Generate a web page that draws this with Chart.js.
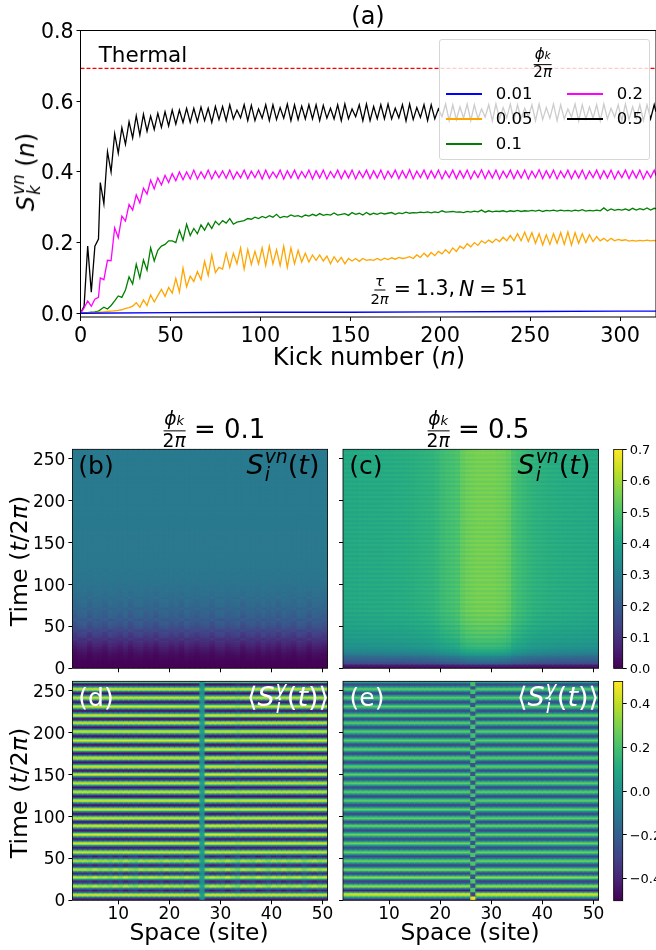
<!DOCTYPE html>
<html>
<head>
<meta charset="utf-8">
<script src="https://cdn.jsdelivr.net/npm/chart.js@4"></script>
<style>
html, body { margin: 0; padding: 0; background: #fff; }
#page { position: relative; width: 656px; height: 950px; overflow: hidden; font-family: "DejaVu Sans"; color: #000; }
canvas { position: absolute; }
.lbl { position: absolute; white-space: nowrap; transform: translate(-50%, -50%); line-height: 1; }
.rot { transform: translate(-50%, -50%) rotate(-90deg); }
.w { color: #fff; }
.fr { display: inline-flex; flex-direction: column; align-items: center; vertical-align: middle; font-size: .72em; line-height: 1.05; }
.fr > span:first-child { border-bottom: 1.5px solid currentColor; padding: 0 1px 1px; }
.fr small { font-size: .7em; }
.ss { display: inline-flex; flex-direction: column; vertical-align: middle; font-size: .7em; line-height: .95; font-style: italic; margin-left: 1px; }
.eq { margin: 0 5px; }
#legend { position: absolute; left: 438.7px; top: 38.7px; width: 209px; height: 119.5px; background: rgba(255,255,255,.8); border: 1px solid #d6d6d6; border-radius: 3px; }
.key { position: absolute; height: 2px; width: 36px; }
.keytxt { position: absolute; font-size: 16.5px; line-height: 1; transform: translateY(-50%); }
</style>
</head>
<body>
<div id="page">
  <canvas id="panelA"></canvas>
  <canvas id="panelB"></canvas>
  <canvas id="panelC"></canvas>
  <canvas id="panelD"></canvas>
  <canvas id="panelE"></canvas>
  <canvas id="barTop"></canvas>
  <canvas id="barBottom"></canvas>

  <div class="lbl" style="left:368px;top:16px;font-size:24px">(a)</div>
  <div class="lbl" style="left:143px;top:55px;font-size:21.5px">Thermal</div>
  <div class="lbl rot" style="left:27px;top:172px;font-size:24px"><i>S</i><span class="ss"><span>vn</span><span>k</span></span> (<i>n</i>)</div>
  <div class="lbl" style="left:369px;top:357px;font-size:24px">Kick number (<i>n</i>)</div>
  <div class="lbl" style="left:449px;top:289px;font-size:20.5px"><span class="fr"><span><i>τ</i></span><span>2<i>π</i></span></span><span class="eq">=</span>1.3,<i style="margin-left:4px">N</i><span class="eq">=</span>51</div>

  <div id="legend"></div>

  <div class="lbl" style="left:214px;top:430px;font-size:26px"><span class="fr"><span><i>ϕ</i><small><i>k</i></small></span><span>2<i>π</i></span></span> = 0.1</div>
  <div class="lbl" style="left:478px;top:430px;font-size:26px"><span class="fr"><span><i>ϕ</i><small><i>k</i></small></span><span>2<i>π</i></span></span> = 0.5</div>

  <div class="lbl rot" style="left:20px;top:561px;font-size:23.7px">Time (<i>t</i>/2<i>π</i>)</div>
  <div class="lbl rot" style="left:20px;top:793px;font-size:23.7px">Time (<i>t</i>/2<i>π</i>)</div>
  <div class="lbl" style="left:199px;top:933px;font-size:23.4px">Space (site)</div>
  <div class="lbl" style="left:470px;top:933px;font-size:23.4px">Space (site)</div>

  <div class="lbl" style="left:96px;top:465px;font-size:25px">(b)</div>
  <div class="lbl" style="left:283px;top:466px;font-size:27px"><i>S</i><span class="ss"><span>vn</span><span>i</span></span>(<i>t</i>)</div>
  <div class="lbl" style="left:366px;top:465px;font-size:25px">(c)</div>
  <div class="lbl" style="left:554px;top:466px;font-size:27px"><i>S</i><span class="ss"><span>vn</span><span>i</span></span>(<i>t</i>)</div>
  <div class="lbl w" style="left:96px;top:697px;font-size:25px">(d)</div>
  <div class="lbl w" style="left:288px;top:698px;font-size:27px">⟨<i>S</i><span class="ss"><span>y</span><span>i</span></span>(<i>t</i>)⟩</div>
  <div class="lbl w" style="left:367px;top:697px;font-size:25px">(e)</div>
  <div class="lbl w" style="left:558px;top:698px;font-size:27px">⟨<i>S</i><span class="ss"><span>y</span><span>i</span></span>(<i>t</i>)⟩</div>
</div>

<script>
// tick positions
const kickTicks = [0, 50, 100, 150, 200, 250, 300];
const entropyTicks = [0, 0.2, 0.4, 0.6, 0.8];
const siteTicks = [10, 20, 30, 40, 50];
const timeTicks = [0, 50, 100, 150, 200, 250];
const barTopTicks = [0, 0.1, 0.2, 0.3, 0.4, 0.5, 0.6, 0.7];
const barBottomTicks = [-0.4, -0.2, 0, 0.2, 0.4];

// panel (a)
const kicks = [0,2,4,6,8,10,
  11,13,15,17,19,21,23,25,27,29,31,33,35,37,39,41,43,45,47,49,
  51,53,55,57,59,61,63,65,67,69,71,73,75,77,79,81,83,85,87,89,
  91,93,95,97,99,101,103,105,107,109,111,113,115,117,119,121,123,125,127,129,
  131,133,135,137,139,141,143,145,147,149,151,153,155,157,159,161,163,165,167,169,
  171,173,175,177,179,181,183,185,187,189,191,193,195,197,199,201,203,205,207,209,
  211,213,215,217,219,221,223,225,227,229,231,233,235,237,239,241,243,245,247,249,
  251,253,255,257,259,261,263,265,267,269,271,273,275,277,279,281,283,285,287,289,
  291,293,295,297,299,301,303,305,307,309,311,313,315,317,319,320];
const black05 = [0,.02,.19,.06,.19,.21,
  .37,.31,.457,.40,.508,.453,.525,.478,.542,.496,.559,.504,.563,.515,.558,.52,.566,.526,.57,.53,
  .575,.535,.575,.54,.58,.54,.58,.542,.583,.545,.58,.54,.585,.548,.585,.545,.59,.55,.575,.553,
  .59,.545,.588,.545,.578,.552,.59,.545,.59,.548,.582,.552,.592,.545,.59,.548,.586,.55,.59,.55,
  .59,.545,.588,.552,.58,.55,.59,.545,.592,.55,.578,.556,.59,.545,.592,.545,.585,.55,.59,.55,
  .592,.55,.58,.553,.59,.544,.592,.548,.582,.554,.59,.545,.59,.55,.578,.556,.592,.545,.59,.548,
  .584,.552,.592,.545,.59,.55,.578,.555,.59,.544,.592,.55,.582,.553,.592,.545,.59,.55,.58,.555,
  .59,.545,.592,.548,.582,.552,.592,.545,.59,.55,.578,.555,.592,.544,.59,.55,.584,.552,.59,.545,
  .592,.55,.58,.555,.59,.545,.592,.548,.584,.552,.59,.545,.59,.55,.59,.57];
const magenta02 = [0,.015,.035,.02,.04,.045,
  .10,.095,.15,.149,.242,.214,.275,.261,.308,.292,.335,.312,.354,.337,.377,.352,.383,.363,.39,.37,
  .395,.375,.40,.378,.40,.38,.405,.38,.40,.382,.405,.38,.402,.384,.403,.382,.405,.38,.40,.383,
  .405,.381,.402,.384,.404,.38,.405,.382,.40,.384,.405,.38,.403,.383,.405,.381,.401,.384,.405,.38,
  .403,.383,.405,.38,.401,.384,.405,.381,.403,.383,.405,.38,.402,.384,.405,.381,.403,.383,.405,.38,
  .402,.384,.405,.381,.403,.383,.406,.38,.402,.384,.405,.381,.403,.383,.405,.38,.402,.384,.405,.381,
  .403,.383,.405,.38,.402,.384,.406,.381,.403,.383,.405,.38,.402,.384,.405,.381,.403,.383,.405,.38,
  .402,.384,.406,.381,.403,.383,.405,.38,.402,.384,.405,.381,.403,.383,.405,.38,.402,.384,.405,.381,
  .403,.383,.405,.38,.402,.384,.405,.381,.403,.383,.405,.38,.402,.384,.405,.39];
const green01 = [0,.001,.002,.003,.004,.006,
  .01,.017,.012,.022,.035,.049,.045,.066,.103,.083,.139,.10,.151,.122,.185,.148,.178,.19,.195,.205,
  .205,.20,.235,.207,.252,.22,.24,.225,.25,.235,.255,.24,.26,.25,.262,.255,.268,.252,.258,.26,
  .262,.268,.266,.272,.268,.274,.27,.276,.272,.28,.27,.274,.272,.278,.274,.276,.272,.278,.275,.28,
  .276,.282,.277,.28,.278,.284,.278,.28,.282,.277,.285,.28,.283,.278,.285,.279,.283,.28,.284,.281,
  .283,.285,.28,.284,.282,.286,.283,.285,.284,.286,.285,.287,.284,.287,.285,.29,.286,.287,.288,.286,
  .287,.285,.288,.286,.289,.287,.292,.286,.29,.287,.289,.288,.29,.287,.29,.288,.291,.288,.29,.289,
  .291,.289,.292,.288,.291,.29,.292,.289,.292,.29,.291,.289,.292,.29,.293,.289,.291,.29,.292,.29,
  .298,.29,.295,.291,.294,.292,.295,.291,.297,.292,.296,.293,.298,.292,.297,.296];
const orange005 = [0,0,.001,.001,.002,.003,
  .003,.004,.005,.006,.007,.008,.01,.014,.016,.02,.03,.017,.038,.022,.052,.032,.05,.068,.048,.073,
  .057,.099,.06,.128,.075,.105,.09,.118,.095,.147,.107,.165,.115,.13,.125,.17,.13,.17,.14,.185,
  .125,.18,.138,.175,.14,.185,.135,.19,.14,.18,.135,.19,.13,.185,.14,.178,.145,.17,.145,.165,
  .15,.165,.148,.162,.14,.16,.145,.158,.14,.155,.148,.155,.147,.155,.15,.152,.15,.155,.15,.156,
  .152,.157,.153,.158,.155,.157,.16,.155,.165,.158,.17,.16,.172,.163,.175,.168,.18,.17,.185,.175,
  .19,.183,.197,.188,.2,.192,.205,.198,.207,.2,.21,.203,.215,.205,.22,.205,.225,.205,.229,.203,
  .228,.198,.225,.193,.222,.195,.225,.198,.228,.195,.23,.193,.228,.198,.225,.2,.222,.203,.217,.205,
  .212,.204,.212,.205,.209,.206,.208,.204,.206,.204,.206,.205,.207,.205,.206,.205];
const blueKicks = [0, 50, 100, 150, 200, 250, 300, 320];
const blue001 = [0, .002, .003, .003, .004, .005, .006, .006];
const thermalKicks = [0, 320];
const thermalLine = [.693, .693];

// legend
const legendNames = ['0.01', '0.05', '0.1', '0.2', '0.5'];
const legendColors = ['blue', 'orange', 'green', 'magenta', 'black'];

// panel (b), one value per 2.6 time units
const bRows = [0,.003,.005,.008,.012,.016,.022,.03,.04,.05,.062,.075,.09,.102,.114,.126,.138,.15,.162,.175,
  .184,.192,.2,.206,.212,.218,.223,.228,.232,.237,.241,.245,.249,.252,.255,.258,.261,.264,.267,.27,
  .272,.273,.274,.275,.276,.277,.278,.279,.28,.28,.281,.281,.281,.282,.282,.282,.282,.283,.283,.283,
  .283,.283,.283,.284,.284,.284,.284,.284,.284,.284,.285,.285,.285,.285,.285,.285,.285,.285,.285,.285,
  .285,.285,.285,.285,.285,.285,.285,.285,.285,.285,.285,.285,.285,.285,.285,.285,.285,.285,.285,.285];
const bRowSwing = [0,0,.001,.002,.004,.006,.008,.01,.012,.013,.015,.014,.016,-.012,.017,.016,.017,-.013,.017,.018,
  .018,.017,-.014,.018,.017,.016,.015,-.012,.014,.013,.012,.01,-.009,.008,.007,.006,.005,.005,-.004,.004,
  .004,.003,.003,-.003,.002,.002,.002,.001,-.001,.001,.001,.001,0,0,0,0,0,0,0,0];
const bSites = [-.6,.4,.8,-.9,.6,.2,-.7,.9,.3,-.5,.7,-.8,.5,.9,-.4,.2,-.9,.6,.8,-.3,
  .4,-.7,.9,.1,-.6,.3,.5,-.8,.7,.9,-.4,.2,.8,-.9,.3,.6,-.5,.9,-.2,.4,-.8,.7,.1,-.6,.9,.5,-.9,.6,.2,-.4];

// panel (c)
const cSites = [.43,.43,.43,.432,.432,.435,.435,.435,.438,.438,.44,.44,.442,.445,.448,.452,.456,.46,.47,.485,
  .495,.5,.51,.54,.555,.56,.565,.565,.565,.565,.56,.555,.54,.505,.49,.478,.466,.458,.452,.448,
  .445,.442,.44,.438,.438,.435,.435,.432,.43,.43];
const cRows = [.04,.12,.38,.45,.5,.56,.66,.72,.76,.8,.84,.82,.88,.85,.91,.87,.93,.89,.95,.9,
  .97,.92,.98,.93,.99,.94,1,.95,1,.95,1,.955,1,.955,1,.955,1,.955,1,.955,
  1,.955,1,.955,1,.955,1,.955,1,.955,1,.955,1,.955,1,.955,1,.955,1,.955,
  1,.955,1,.955,1,.955,1,.955,1,.955,1,.955,1,.955,1,.955,1,.955,1,.955,
  1,.955,1,.955,1,.955,1,.955,1,.955,1,.955,1,.955,1,.955,1,.97,1,.97];

// panel (d), one value per 1.3 time units
const dRows = [-.33,-.46,-.33,0,.33,.46,
  .33,0,-.33,-.46,-.33,0,.33,.47, .33,0,-.33,-.46,-.33,0,.33,.46, .33,-.1,-.42,-.42,-.1,.33,.47,
  .33,0,-.33,-.46,-.33,0,.33,.46, .33,0,-.33,-.46,-.33,0,.33,.46, .33,0,-.33,-.46,-.33,0,.33,.45,
  .33,0,-.33,-.46,-.33,0,.33,.46, .33,0,-.33,-.46,-.33,0,.33,.46, .33,-.1,-.42,-.42,-.1,.33,.46,
  .33,0,-.33,-.46,-.33,0,.33,.45, .33,0,-.33,-.46,-.33,0,.33,.46, .33,0,-.33,-.46,-.33,0,.33,.46,
  .33,0,-.33,-.46,-.33,0,.33,.45, .33,0,-.33,-.46,-.33,0,.33,.46, .33,-.1,-.42,-.42,-.1,.33,.46,
  .33,0,-.33,-.46,-.33,0,.33,.45, .33,0,-.33,-.46,-.33,0,.33,.45, .33,0,-.33,-.46,-.33,0,.33,.46,
  .33,0,-.33,-.46,-.33,0,.33,.45, .33,0,-.33,-.46,-.33,0,.33,.46, .33,-.1,-.42,-.42,-.1,.33,.45,
  .33,0,-.33,-.46,-.33,0,.33,.45, .33,0,-.33,-.46,-.33,0,.33,.46, .33,0,-.33,-.46,-.33,0,.33,.45,
  .33,0,-.33,-.46,-.33,.2];
const dSites = [.96,.96,.97,.95,.98,.97,.96,.98,.97,.96,.98,.97,.95,.98,.97,.96,.98,.97,.96,.98,
  .97,.96,.98,.97,.95,.1,.95,.98,.97,.96,.98,.97,.9,.98,.97,.96,.98,.97,.96,.98,
  .97,.96,.98,.97,.96,.92,.98,.97,.96,.96];
const dEarlySites = [.95,.9,.92,.85,.97,.85,.92,.8,.95,.82,.97,.85,.8,.95,.87,.97,.9,.85,1,.87,
  .92,.85,.97,.9,.85,1,.87,.97,.9,.85,1,.87,.8,.97,.9,.85,1,.92,.82,.95,
  .87,1,.85,.92,.97,.82,.9,1,.87,.95];

// panel (e)
const eRows = [-.47,-.35,-.1,.1,.3,.42,.44,.2,-.2,-.42,-.3,0,.25,.36,
  .22,0,-.22,-.32,-.24,0,.24,.34, .2,-.05,-.28,-.3,-.05,.22,.34,
  .18,0,-.2,-.3,-.2,0,.2,.31, .18,0,-.2,-.3,-.2,0,.2,.3, .18,0,-.2,-.3,-.2,0,.18,.29,
  .18,0,-.2,-.29,-.2,0,.18,.29, .17,0,-.2,-.29,-.2,0,.18,.29, .16,-.05,-.26,-.27,-.05,.18,.29,
  .17,0,-.2,-.29,-.2,0,.18,.28, .17,0,-.2,-.29,-.2,0,.18,.28, .17,0,-.2,-.29,-.2,0,.18,.28,
  .17,0,-.2,-.28,-.2,0,.18,.28, .17,0,-.2,-.28,-.2,0,.18,.28, .16,-.05,-.25,-.26,-.05,.17,.27,
  .17,0,-.2,-.28,-.2,0,.18,.28, .17,0,-.2,-.28,-.2,0,.18,.28, .17,0,-.2,-.28,-.2,0,.17,.27,
  .17,0,-.2,-.28,-.2,0,.17,.27, .17,0,-.2,-.28,-.2,0,.17,.27, .16,-.05,-.25,-.26,-.05,.17,.27,
  .17,0,-.2,-.28,-.2,0,.17,.27, .17,0,-.2,-.28,-.2,0,.17,.27, .17,0,-.2,-.28,-.2,0,.17,.27,
  .17,0,-.2,-.28,-.2,.05];
const eSites = [.96,.97,.98,.97,.98,.98,.99,.98,1,.99,1,.99,1,1,1,1,1,1,.99,1,
  1,1,.99,1,1,0,1,1,.99,1,1,1,1,.99,1,1,1,1,1,1,
  1,.99,1,1,.99,.98,.98,.97,.97,.96];
// site 26 flips sign on its own, one block is about 4 rows tall
const eMiddle = [.47,-.3,.22,-.26,.22,-.25,.22,-.25,.22,-.24,.21,-.24,.21,-.24,.21,-.24,.21,-.24,.21,-.24,
  .21,-.24,.21,-.24,.2,-.24,.2,-.24,.2,-.24,.2,-.24,.2,-.24,.2,-.24,.2,-.24,.2,-.24,
  .2,-.24,.2,-.24,.2,-.24,.2,-.24,.2,-.24,.2,-.24];

// viridis, every 0.1
const viridisStops = [[68,1,84],[72,36,117],[65,68,135],[53,95,141],[42,120,142],[33,145,140],
  [34,168,132],[68,191,112],[122,209,81],[189,223,38],[253,231,37]];

function viridis(v) {
  var p = Math.min(Math.max(v, 0), 1) * 10;
  var i = Math.min(Math.floor(p), 9);
  var f = p - i;
  var a = viridisStops[i], b = viridisStops[i + 1];
  return 'rgb(' + Math.round(a[0] + (b[0] - a[0]) * f) + ',' + Math.round(a[1] + (b[1] - a[1]) * f) + ',' + Math.round(a[2] + (b[2] - a[2]) * f) + ')';
}

Chart.defaults.font.family = '"DejaVu Sans"';
Chart.defaults.color = '#000';
Chart.defaults.animation = false;

const framePlugin = {
  id: 'frame',
  afterDraw: function (chart) {
    var a = chart.chartArea, ctx = chart.ctx;
    ctx.save();
    ctx.strokeStyle = '#000';
    ctx.lineWidth = chart.options.frameWidth || 1;
    ctx.strokeRect(a.left, a.top, a.width, a.height);
    ctx.restore();
  }
};

function axis(ticksList, min, max, fontSize, fixedSize, horizontal, fmt, extra) {
  return Object.assign({
    type: 'linear', min: min, max: max, offset: false,
    grid: { offset: false, drawOnChartArea: false, drawTicks: true, tickLength: 4, tickColor: '#000', tickWidth: 1 },
    border: { display: false },
    ticks: {
      font: { size: fontSize }, color: '#000', autoSkip: false, maxRotation: 0, callback: fmt,
      padding: horizontal && fontSize < 20 ? 0 : 3,
      labelOffset: horizontal ? 0 : fontSize * .1
    },
    afterBuildTicks: function (s) { s.ticks = ticksList.map(function (v) { return { value: v }; }); },
    afterFit: function (s) { if (horizontal) { s.height = fixedSize; } else { s.width = fixedSize; } }
  }, extra || {});
}

// puts a canvas on the page so that the plot area lands on the given box
function place(id, box, leftRoom, topRoom, rightRoom, bottomRoom) {
  var c = document.getElementById(id);
  var x0 = Math.floor(box.left - leftRoom), y0 = Math.floor(box.top - topRoom);
  var w = Math.ceil(box.right + rightRoom) - x0, h = Math.ceil(box.bottom + bottomRoom) - y0;
  c.width = w; c.height = h;
  c.style.left = x0 + 'px'; c.style.top = y0 + 'px';
  c.style.width = w + 'px'; c.style.height = h + 'px';
  return {
    canvas: c,
    left: box.left - x0,
    top: box.top - y0,
    right: w - (box.right - x0),
    bottom: h - (box.bottom - y0)
  };
}

function heatmap(id, box, cells, colors, xTicksShown, yTicksShown) {
  var p = place(id, box, 72, 14, 8, 30);
  return new Chart(p.canvas, {
    type: 'bar',
    data: { datasets: [{ data: cells, backgroundColor: colors, borderWidth: 0, inflateAmount: .6, grouped: false, barPercentage: 1, categoryPercentage: 1 }] },
    options: {
      responsive: false, events: [], frameWidth: .8,
      layout: { padding: { top: p.top, right: p.right } },
      plugins: { legend: { display: false }, tooltip: { enabled: false } },
      scales: {
        x: axis(siteTicks, 1, 51, 17, p.bottom, true, function (v) { return xTicksShown ? String(v) : ''; }),
        y: axis(timeTicks, 0, 261, 17, p.left, false, function (v) { return yTicksShown ? String(v) : ''; })
      }
    },
    plugins: [framePlugin]
  });
}

function colorBar(id, box, lo, hi, tickList) {
  var p = place(id, box, 6, 12, 656 - box.right, 12);
  var cells = [], colors = [];
  var steps = 128;
  for (var i = 0; i < steps; i++) {
    var a = lo + (hi - lo) * i / steps, b = lo + (hi - lo) * (i + 1) / steps;
    cells.push({ x: .5, y: [a, b] });
    colors.push(viridis((i + .5) / steps));
  }
  return new Chart(p.canvas, {
    type: 'bar',
    data: { datasets: [{ data: cells, backgroundColor: colors, borderWidth: 0, inflateAmount: .6, grouped: false, barPercentage: 1, categoryPercentage: 1 }] },
    options: {
      responsive: false, events: [], frameWidth: .8,
      layout: { padding: { top: p.top, bottom: p.bottom, left: p.left } },
      plugins: { legend: { display: false }, tooltip: { enabled: false } },
      scales: {
        x: { type: 'linear', min: 0, max: 1, display: false, offset: false, grid: { offset: false } },
        y: axis(tickList, lo, hi, 13, p.right, false, function (v) { return v.toFixed(1).replace('-', '\u2212'); }, { position: 'right' })
      }
    },
    plugins: [framePlugin]
  });
}

function series(xs, ys, color, width, dash) {
  return {
    data: ys.map(function (v, i) { return { x: xs[i], y: v }; }),
    borderColor: color, borderWidth: width || 1.3, pointRadius: 0, tension: 0, fill: false, borderDash: dash || []
  };
}

// panel (a)
var boxA = { left: 80.5, top: 30.5, right: 656, bottom: 317 };
var pA = place('panelA', boxA, 80, 30, 0, 60);
new Chart(pA.canvas, {
  type: 'line',
  data: {
    datasets: [
      series(thermalKicks, thermalLine, 'red', 1.2, [4, 2]),
      series(blueKicks, blue001, legendColors[0], 1.4),
      series(kicks, orange005, legendColors[1]),
      series(kicks, green01, legendColors[2]),
      series(kicks, magenta02, legendColors[3]),
      series(kicks, black05, legendColors[4])
    ]
  },
  options: {
    responsive: false, events: [],
    layout: { padding: { top: pA.top, right: 0 } },
    plugins: { legend: { display: false }, tooltip: { enabled: false } },
    scales: {
      x: axis(kickTicks, 0, 320, 20.8, pA.bottom, true, function (v) { return String(v); }),
      y: axis(entropyTicks, -0.0105, .8, 20.5, pA.left, false, function (v) { return v.toFixed(1); })
    }
  },
  plugins: [framePlugin]
});

// html legend
var legendBox = document.getElementById('legend');
var title = document.createElement('div');
title.className = 'lbl';
title.style.cssText = 'left:103px;top:24px;font-size:21px';
title.innerHTML = '<span class="fr"><span><i>ϕ</i><small><i>k</i></small></span><span>2<i>π</i></span></span>';
legendBox.appendChild(title);
legendNames.forEach(function (name, i) {
  var col = i < 3 ? 0 : 1, row = i < 3 ? i : i - 3;
  var key = document.createElement('div');
  key.className = 'key';
  key.style.left = (6 + col * 121.5) + 'px';
  key.style.top = (53 + row * 25) + 'px';
  key.style.background = legendColors[i];
  var txt = document.createElement('div');
  txt.className = 'keytxt';
  txt.textContent = name;
  txt.style.left = (56 + col * 121) + 'px';
  txt.style.top = (54 + row * 25) + 'px';
  legendBox.appendChild(key);
  legendBox.appendChild(txt);
});

// heatmap cells
function cellsB() {
  var cells = [], colors = [];
  bRows.forEach(function (m, r) {
    bSites.forEach(function (s, i) {
      var swing = r < bRowSwing.length ? bRowSwing[r] : 0;
      var v = m + swing * s;
      cells.push({ x: i + 1.5, y: [r * 2.61, (r + 1) * 2.61] });
      colors.push(viridis(v / .7));
    });
  });
  return { cells: cells, colors: colors };
}
function cellsC() {
  var cells = [], colors = [];
  cRows.forEach(function (m, r) {
    cSites.forEach(function (s, i) {
      cells.push({ x: i + 1.5, y: [r * 2.61, (r + 1) * 2.61] });
      colors.push(viridis(s * m / .7));
    });
  });
  return { cells: cells, colors: colors };
}
function cellsD() {
  var cells = [], colors = [];
  dRows.forEach(function (m, r) {
    dSites.forEach(function (s, i) {
      var early = r < 42 && r > 6 && i !== 25 ? dEarlySites[i] : 1;
      var v = i === 25 ? m * s + .02 : m * s * early;
      cells.push({ x: i + 1.5, y: [r * 1.305, (r + 1) * 1.305] });
      colors.push(viridis(v + .5));
    });
  });
  return { cells: cells, colors: colors };
}
function cellsE() {
  var cells = [], colors = [];
  eRows.forEach(function (m, r) {
    eSites.forEach(function (s, i) {
      var v = i === 25 ? eMiddle[Math.floor(r / 3.92)] : m * s;
      cells.push({ x: i + 1.5, y: [r * 1.305, (r + 1) * 1.305] });
      colors.push(viridis(v + .5));
    });
  });
  return { cells: cells, colors: colors };
}

var topY = { top: 449.3, bottom: 668.3 }, lowY = { top: 681.3, bottom: 900.3 };
var leftX = { left: 72.4, right: 327.6 }, rightX = { left: 343, right: 598.6 };

var mapB = cellsB(), mapC = cellsC(), mapD = cellsD(), mapE = cellsE();
heatmap('panelB', Object.assign({}, leftX, topY), mapB.cells, mapB.colors, false, true);
heatmap('panelC', Object.assign({}, rightX, topY), mapC.cells, mapC.colors, false, false);
heatmap('panelD', Object.assign({}, leftX, lowY), mapD.cells, mapD.colors, true, true);
heatmap('panelE', Object.assign({}, rightX, lowY), mapE.cells, mapE.colors, true, false);

colorBar('barTop', { left: 613.7, right: 622.7, top: 449.5, bottom: 668.5 }, 0, .7, barTopTicks);
colorBar('barBottom', { left: 613.7, right: 622.7, top: 681.5, bottom: 900.7 }, -.5, .5, barBottomTicks);
</script>
</body>
</html>
